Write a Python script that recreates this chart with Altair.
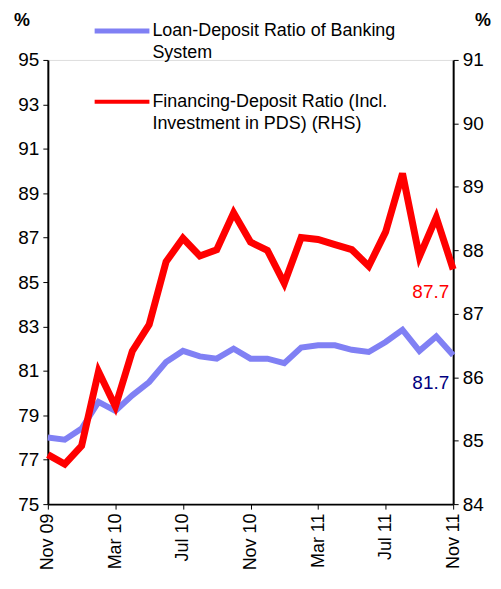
import altair as alt
import pandas as pd

months = ["Nov 09", "Dec 09", "Jan 10", "Feb 10", "Mar 10", "Apr 10", "May 10", "Jun 10",
          "Jul 10", "Aug 10", "Sep 10", "Oct 10", "Nov 10", "Dec 10", "Jan 11", "Feb 11",
          "Mar 11", "Apr 11", "May 11", "Jun 11", "Jul 11", "Aug 11", "Sep 11", "Oct 11", "Nov 11"]
loan_deposit = [78.0, 77.9, 78.4, 79.6, 79.2, 79.9, 80.5, 81.4, 81.9, 81.65, 81.55, 82.0, 81.55,
                81.55, 81.35, 82.05, 82.15, 82.15, 81.95, 81.85, 82.3, 82.85, 81.9, 82.55, 81.7]
financing_deposit = [84.78, 84.63, 84.92, 86.09, 85.54, 86.41, 86.83, 87.82, 88.19, 87.91, 88.01,
                     88.59, 88.13, 88.0, 87.48, 88.2, 88.17, 88.09, 88.01, 87.75, 88.29, 89.21,
                     87.9, 88.52, 87.7]
x_tick_labels = ["Nov 09", "Mar 10", "Jul 10", "Nov 10", "Mar 11", "Jul 11", "Nov 11"]
left_ticks = list(range(75, 96, 2))
right_ticks = list(range(84, 92, 1))
legend_loan = ["Loan-Deposit Ratio of Banking", "System"]
legend_fin = ["Financing-Deposit Ratio (Incl.", "Investment in PDS) (RHS)"]

df = pd.DataFrame({"month": months, "loan": loan_deposit, "fin": financing_deposit})
last = df.iloc[[-1]]

FONT = "Liberation Sans"
BLUE = "#8080f4"
RED = "#ff0000"
AX_FS = 19

x_enc = alt.X("month:O", sort=months,
              scale=alt.Scale(type="point", padding=0),
              axis=alt.Axis(values=x_tick_labels, labelAngle=-90, title=None,
                            domainColor="black", domainWidth=2, tickColor="black",
                            tickSize=5, labelFontSize=18, labelColor="black",
                            labelPadding=4, grid=False))

blue_line = alt.Chart(df).mark_line(color=BLUE, strokeWidth=6).encode(
    x=x_enc,
    y=alt.Y("loan:Q", scale=alt.Scale(domain=[75, 95], nice=False, zero=False),
            axis=alt.Axis(values=left_ticks, title=None, orient="left", format="d",
                          domainColor="black", domainWidth=2, tickColor="black",
                          tickSize=5, labelFontSize=AX_FS, labelColor="black",
                          labelPadding=4, grid=False)),
)
blue_label = alt.Chart(last).mark_text(color="#000080", fontSize=19, font=FONT,
                                       align="right", dx=-4, dy=28).encode(
    x=alt.X("month:O", sort=months, scale=alt.Scale(type="point", padding=0)),
    y=alt.Y("loan:Q"),
    text=alt.Text("loan:Q", format=".1f"),
)

# legend
leg_rule_blue = alt.Chart(pd.DataFrame({"a": [0]})).mark_rule(color=BLUE, strokeWidth=5).encode(
    x=alt.value(47), x2=alt.value(102), y=alt.value(-29))
leg_rule_red = alt.Chart(pd.DataFrame({"a": [0]})).mark_rule(color=RED, strokeWidth=4).encode(
    x=alt.value(47), x2=alt.value(102), y=alt.value(42))
leg_text_blue = alt.Chart(pd.DataFrame({"t": [legend_loan]})).mark_text(
    align="left", baseline="middle", fontSize=18, font=FONT, color="black", lineHeight=22).encode(
    x=alt.value(105), y=alt.value(-29), text="t")
leg_text_red = alt.Chart(pd.DataFrame({"t": [legend_fin]})).mark_text(
    align="left", baseline="middle", fontSize=18, font=FONT, color="black", lineHeight=22).encode(
    x=alt.value(105), y=alt.value(42), text="t")
pct_left = alt.Chart(pd.DataFrame({"t": ["%"]})).mark_text(
    fontSize=18, fontWeight="bold", font=FONT, color="black").encode(
    x=alt.value(-26), y=alt.value(-39), text="t")
pct_right = alt.Chart(pd.DataFrame({"t": ["%"]})).mark_text(
    fontSize=18, fontWeight="bold", font=FONT, color="black").encode(
    x=alt.value(437), y=alt.value(-39), text="t")

left = alt.layer(blue_line, blue_label, leg_rule_blue, leg_rule_red,
                 leg_text_blue, leg_text_red, pct_left, pct_right)

red_line = alt.Chart(df).mark_line(color=RED, strokeWidth=7, strokeJoin="miter").encode(
    x=alt.X("month:O", sort=months, scale=alt.Scale(type="point", padding=0)),
    y=alt.Y("fin:Q", scale=alt.Scale(domain=[84, 91], nice=False, zero=False),
            axis=alt.Axis(values=right_ticks, title=None, orient="right", format="d",
                          domainColor="black", domainWidth=2, tickColor="black",
                          tickSize=5, labelFontSize=AX_FS, labelColor="black",
                          labelPadding=4, grid=False)),
)
red_label = alt.Chart(last).mark_text(color=RED, fontSize=19, font=FONT,
                                      align="right", dx=-4, dy=23).encode(
    x=alt.X("month:O", sort=months, scale=alt.Scale(type="point", padding=0)),
    y=alt.Y("fin:Q"),
    text=alt.Text("fin:Q", format=".1f"),
)
right = alt.layer(red_line, red_label)

chart = alt.layer(left, right).resolve_scale(y="independent").properties(
    width=407, height=446,
    autosize=alt.AutoSizeParams(type="none"),
    padding={"left": 40, "top": 51, "right": 40, "bottom": 70},
).configure_view(stroke=None).configure(font=FONT)

chart.save("out.html", embed_options={"renderer": "svg", "actions": False})
